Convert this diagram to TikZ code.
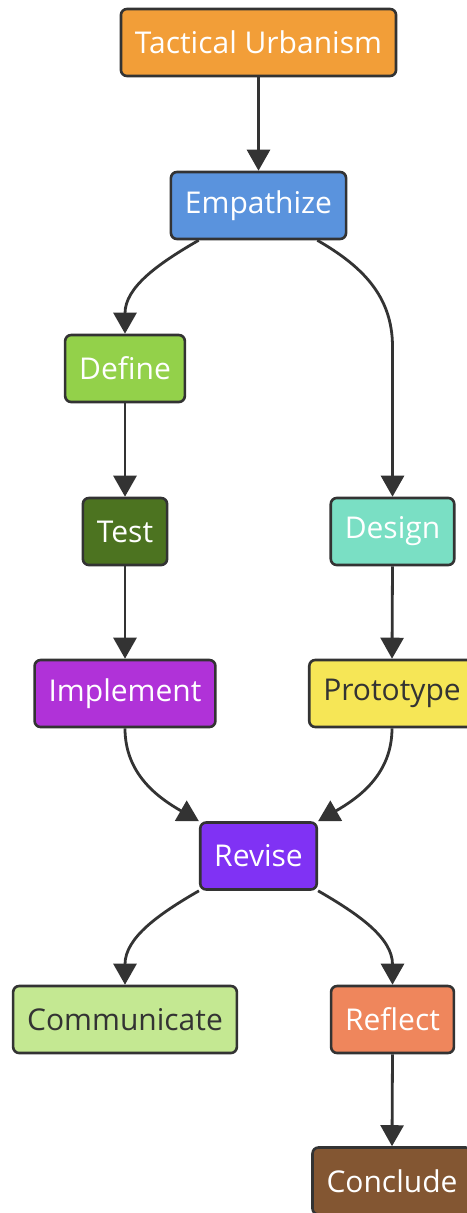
\documentclass[tikz,border=0pt]{standalone}
\usepackage{fontspec}
\setmainfont{Open Sans}
\usetikzlibrary{arrows.meta}

\definecolor{edgegray}{HTML}{333333}
\definecolor{cTact}{HTML}{F29E38}
\definecolor{cEmp}{HTML}{5A93DD}
\definecolor{cDef}{HTML}{93D14A}
\definecolor{cTest}{HTML}{4C7320}
\definecolor{cDesign}{HTML}{7ADFC4}
\definecolor{cImpl}{HTML}{B032D8}
\definecolor{cProto}{HTML}{F6E656}
\definecolor{cRevise}{HTML}{8032F4}
\definecolor{cComm}{HTML}{C4E892}
\definecolor{cReflect}{HTML}{EF865C}
\definecolor{cConcl}{HTML}{835632}

\tikzset{
  stage/.style={draw=edgegray, line width=2.6pt, rounded corners=6pt,
    minimum height=67pt, inner xsep=14pt, text=white,
    font=\fontsize{30}{36}\selectfont},
  flow/.style={draw=edgegray, line width=2.8pt,
    -{Triangle[length=21pt,width=23pt]}},
}

\begin{document}
\begin{tikzpicture}[x=1pt,y=-1pt]
        \useasboundingbox[fill=white] (0,0) rectangle (466,1213);
        %% stages
        \node[stage,fill=cTact]    (tact)    at (258.5,42.5)  {Tactical Urbanism};
        \node[stage,fill=cEmp]     (emp)     at (258.5,205.5) {Empathize};
        \node[stage,fill=cDef]     (def)     at (125,368.5)   {Define};
        \node[stage,fill=cTest]    (test)    at (125,531.5)   {Test};
        \node[stage,fill=cDesign]  (design)  at (392.5,531.5) {Design};
        \node[stage,fill=cImpl]    (impl)    at (125,693.5)   {Implement};
        \node[stage,fill=cProto,text=edgegray] (proto) at (392,693.5) {Prototype};
        \node[stage,fill=cRevise]  (revise)  at (258.5,856)   {Revise};
        \node[stage,fill=cComm,text=edgegray] (comm) at (125,1019.5) {Communicate};
        \node[stage,fill=cReflect] (reflect) at (392.5,1019.5) {Reflect};
        \node[stage,fill=cConcl]   (concl)   at (392,1181)    {Conclude};
        %% straight links
        \foreach \a/\b in {tact/emp,def/test,test/impl,design/proto,reflect/concl}
            \draw[flow] (\a.south) -- (\b.north);
        %% curved links
        \draw[flow] ([xshift=29pt]emp.south west) to[out=-150,in=90] (def.north);
        \draw[flow] ([xshift=-30pt]emp.south east) to[out=-30,in=90] ([yshift=150pt]design.north) -- (design.north);
        \draw[flow] (impl.south) to[out=-90,in=150] (revise.north west);
        \draw[flow] (proto.south) to[out=-90,in=30] (revise.north east);
        \draw[flow] (revise.south west) to[out=-150,in=90] (comm.north);
        \draw[flow] (revise.south east) to[out=-30,in=90] (reflect.north);
    \end{tikzpicture}
\end{document}
